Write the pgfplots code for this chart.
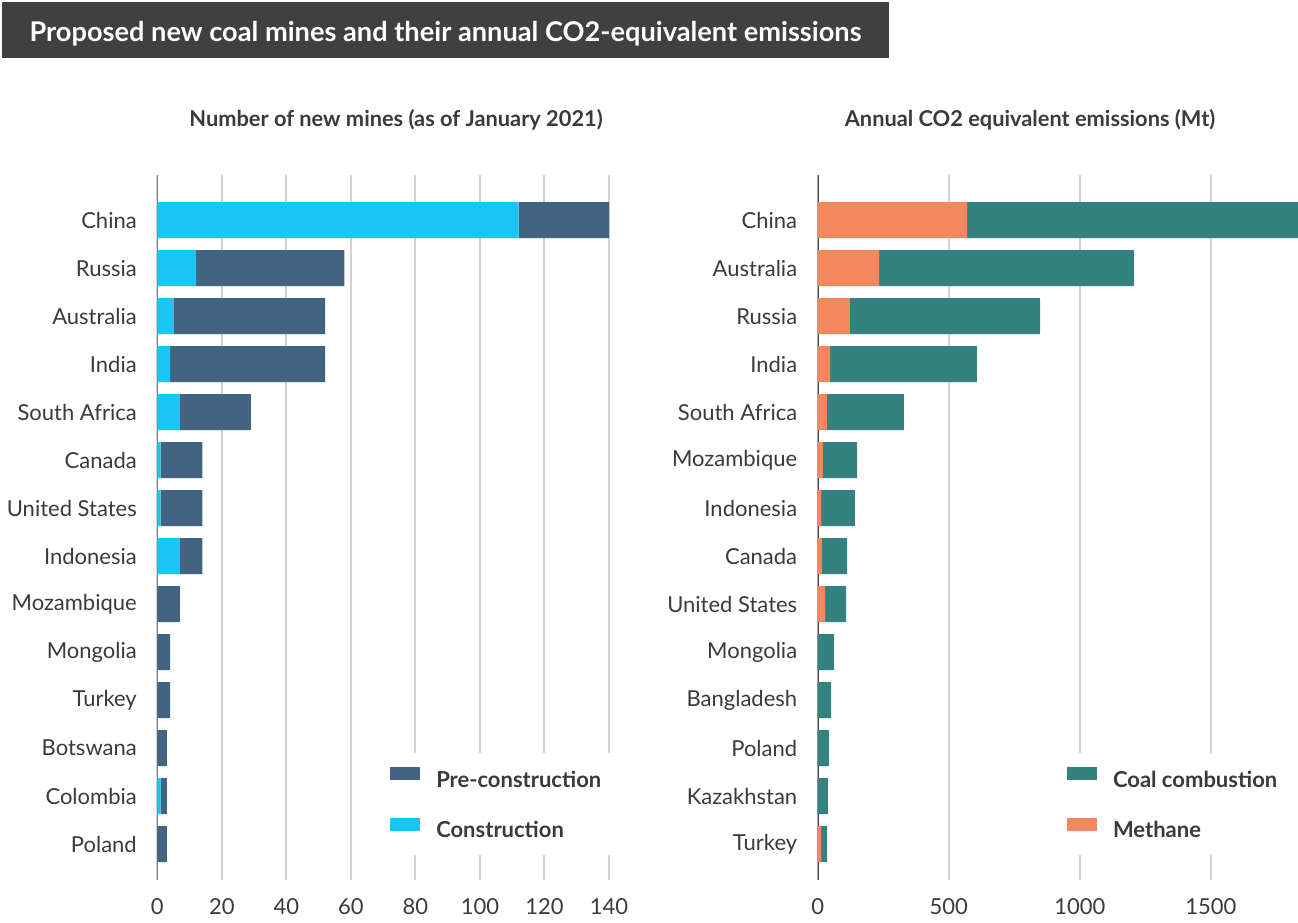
\documentclass[border=0pt]{standalone}
\usepackage{fontspec}
\setmainfont{Lato}
\usepackage{pgfplots}
\usepackage{pgfplotstable}
\pgfplotsset{compat=1.18}
\definecolor{pre}{HTML}{426482}
\definecolor{cons}{HTML}{1AC4F4}
\definecolor{coal}{HTML}{33827F}
\definecolor{meth}{HTML}{F5875D}
\definecolor{banner}{HTML}{404040}
\definecolor{txt}{HTML}{3A3A3A}
\definecolor{gridc}{HTML}{D2D2D2}
\definecolor{axc}{HTML}{4A4A4A}

\pgfplotstableread{
idx cons pre
0  112 28
1  12  46
2  5   47
3  4   48
4  7   22
5  1   13
6  1   13
7  7   7
8  0   7
9  0   4
10 0   4
11 0   3
12 1   2
13 0   3
}\minesdata

\pgfplotstableread{
idx meth coal
0  570 1262
1  234 972
2  123 725
3  47  560
4  35  294
5  20  130
6  13  129
7  16  96
8  28  80
9  0   62
10 0   51
11 0   43
12 0   39
13 13  23
}\emisdata

\pgfplotsset{
  panel/.style={
    scale only axis, height=705pt,
    xbar stacked, bar width=0.75, y dir=reverse,
    ymin=-0.94, ymax=13.75, ytick={0,...,13},
    axis line style={draw=none}, major tick length=0pt,
    xmajorgrids, grid style={gridc, line width=2pt},
    tick label style={font=\fontsize{22}{26}\selectfont, text=txt},
    yticklabel style={xshift=-17pt},
    xticklabel style={yshift=-15pt},
    /pgf/number format/assume math mode=true,
    /pgf/number format/1000 sep={},
    reverse legend,
    legend cell align=left,
    legend image code/.code={\fill[##1] (0pt,-0.5pt) rectangle (30pt,12.5pt);},
    legend style={draw=none, fill=white, anchor=north west,
      font=\bfseries\fontsize{22}{26}\selectfont, text=txt,
      inner xsep=20pt, inner ysep=14pt, row sep=27pt,
      /tikz/every odd column/.style={column sep=14pt}},
  }
}

\begin{document}
\begin{tikzpicture}
\useasboundingbox (0pt,0pt) rectangle (1298pt,922pt);
\fill[banner] (2pt,864pt) rectangle (889pt,920pt);
\node[anchor=west, text=white, font=\bfseries\fontsize{27.2}{31}\selectfont] at (26pt,888pt) {Proposed new coal mines and their annual CO2-equivalent emissions};
\node[text=txt, font=\bfseries\fontsize{21.8}{25}\selectfont] at (396pt,802pt) {Number of new mines (as of January 2021)};
\node[text=txt, font=\bfseries\fontsize{21.8}{25}\selectfont] at (1030pt,802pt) {Annual CO2 equivalent emissions (Mt)};

\begin{axis}[panel, at={(157.3pt,42pt)}, anchor=south west, width=451.7pt,
  xmin=0, xmax=140, xtick={0,20,...,140},
  yticklabels={China,Russia,Australia,India,South Africa,Canada,United States,Indonesia,Mozambique,Mongolia,Turkey,Botswana,Colombia,Poland},
  legend style={at={(0.471,0.180)}}]
\addplot[fill=cons, draw=none] table[x=cons, y=idx] {\minesdata};
\addlegendentry{Construction}
\addplot[fill=pre, draw=none] table[x=pre, y=idx] {\minesdata};
\addlegendentry{Pre-construction}
\draw[axc, line width=2pt] (rel axis cs:0,0) -- (rel axis cs:0,1);
\end{axis}

\begin{axis}[panel, at={(817.7pt,42pt)}, anchor=south west, width=480.3pt,
  xmin=0, xmax=1832, xtick={0,500,1000,1500},
  yticklabels={China,Australia,Russia,India,South Africa,Mozambique,Indonesia,Canada,United States,Mongolia,Bangladesh,Poland,Kazakhstan,Turkey},
  legend style={at={(0.477,0.180)}}]
\addplot[fill=meth, draw=none] table[x=meth, y=idx] {\emisdata};
\addlegendentry{Methane}
\addplot[fill=coal, draw=none] table[x=coal, y=idx] {\emisdata};
\addlegendentry{Coal combustion}
\draw[axc, line width=2pt] (rel axis cs:0,0) -- (rel axis cs:0,1);
\end{axis}
\end{tikzpicture}
\end{document}
